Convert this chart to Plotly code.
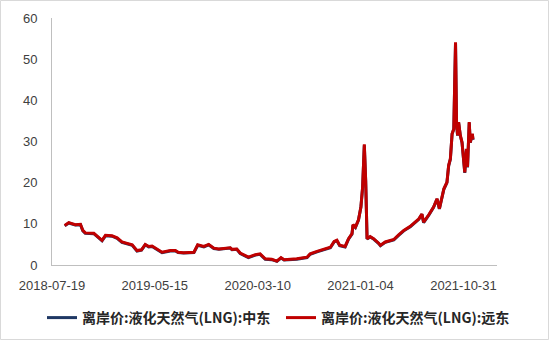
import plotly.graph_objects as go

dates = [
    "2018-08-25", "2018-09-06", "2018-09-25", "2018-10-10", "2018-10-17", "2018-10-24",
    "2018-11-18", "2018-11-27", "2018-12-12", "2018-12-22", "2019-01-10", "2019-01-25",
    "2019-02-08", "2019-03-10", "2019-03-24", "2019-04-06", "2019-04-17", "2019-04-27",
    "2019-05-07", "2019-06-05", "2019-06-29", "2019-07-14", "2019-07-22", "2019-08-07",
    "2019-08-27", "2019-09-06", "2019-09-17", "2019-10-05", "2019-10-19", "2019-11-03",
    "2019-11-18", "2019-12-07", "2019-12-21", "2019-12-26", "2020-01-09", "2020-01-19",
    "2020-02-12", "2020-03-03", "2020-03-17", "2020-04-01", "2020-04-20", "2020-05-05",
    "2020-05-17", "2020-05-26", "2020-07-02", "2020-08-01", "2020-08-10", "2020-08-30",
    "2020-09-13", "2020-10-08", "2020-10-19", "2020-10-27", "2020-11-04", "2020-11-20",
    "2020-11-30", "2020-12-10", "2020-12-13", "2020-12-20", "2020-12-29", "2021-01-05",
    "2021-01-10", "2021-01-15", "2021-01-19", "2021-01-23", "2021-02-01", "2021-02-11",
    "2021-02-26", "2021-03-03", "2021-03-17", "2021-04-11", "2021-04-25", "2021-05-10",
    "2021-05-29", "2021-06-13", "2021-06-23", "2021-07-02", "2021-07-07", "2021-07-22",
    "2021-08-05", "2021-08-15", "2021-08-22", "2021-09-04", "2021-09-13", "2021-09-18",
    "2021-09-23", "2021-09-28", "2021-10-03", "2021-10-08", "2021-10-11", "2021-10-14",
    "2021-10-17", "2021-10-22", "2021-10-27", "2021-11-04", "2021-11-09", "2021-11-12",
    "2021-11-17", "2021-11-20", "2021-11-26", "2021-11-28",
]

far_east = [
    9.6, 10.3, 9.8, 9.9, 8.4, 7.8,
    7.7, 7.0, 6.0, 7.2, 7.1, 6.6,
    5.6, 4.9, 3.5, 3.7, 5.0, 4.5,
    4.6, 3.1, 3.5, 3.5, 3.1, 3.0,
    3.1, 3.1, 4.9, 4.5, 5.0, 4.1,
    3.9, 4.1, 4.2, 3.8, 3.9, 2.9,
    1.9, 2.5, 2.7, 1.5, 1.4, 0.95,
    1.8, 1.3, 1.5, 1.9, 2.7, 3.3,
    3.7, 4.3, 5.7, 6.0, 4.8, 4.5,
    6.4, 7.6, 9.8, 9.2, 11.0, 14.1,
    18.9, 29.3, 20.5, 6.4, 6.9, 6.4,
    5.3, 4.8, 5.6, 6.2, 7.3, 8.4,
    9.4, 10.4, 11.2, 12.4, 10.4, 12.2,
    14.1, 16.1, 13.7, 18.5, 20.1, 24.2,
    25.8, 31.9, 33.1, 54.1, 34.7, 31.5,
    34.7, 31.5, 29.8, 22.5, 28.2, 23.8,
    34.7, 29.8, 31.9, 30.5,
]

middle_east = [
    9.5, 10.2, 9.7, 9.8, 8.3, 7.7,
    7.6, 6.9, 5.9, 7.1, 7.0, 6.5,
    5.5, 4.8, 3.4, 3.6, 4.9, 4.4,
    4.5, 3.0, 3.4, 3.4, 3.0, 2.9,
    3.0, 3.0, 4.8, 4.4, 4.9, 4.0,
    3.8, 4.0, 4.1, 3.7, 3.8, 2.8,
    1.8, 2.4, 2.6, 1.4, 1.3, 0.9,
    1.7, 1.2, 1.4, 1.8, 2.6, 3.2,
    3.6, 4.2, 5.6, 5.9, 4.7, 4.4,
    6.3, 7.5, 9.7, 9.1, 10.9, 14.0,
    18.8, 29.1, 20.4, 6.3, 6.8, 6.3,
    5.2, 4.7, 5.5, 6.1, 7.2, 8.3,
    9.3, 10.3, 11.1, 12.3, 10.3, 12.1,
    14.0, 16.0, 13.6, 18.4, 20.0, 24.1,
    25.7, 31.8, 33.0, 53.9, 34.6, 31.4,
    34.6, 31.4, 29.7, 22.4, 28.1, 23.7,
    34.6, 29.7, 31.8, 30.4,
]

names = ["离岸价:液化天然气(LNG):中东", "离岸价:液化天然气(LNG):远东"]
colors = ["#1F3864", "#C00000"]
y_ticks = [0, 10, 20, 30, 40, 50, 60]
x_start = "2018-07-19"
x_end = "2022-02-06"
tick_step_days = 300

fig = go.Figure()
fig.add_trace(go.Scatter(x=dates, y=middle_east, mode="lines", name=names[0],
                         legend="legend", line=dict(color=colors[0], width=3)))
fig.add_trace(go.Scatter(x=dates, y=far_east, mode="lines", name=names[1],
                         legend="legend2", line=dict(color=colors[1], width=3)))

ml, mr, mt, mb = 52, 53, 18, 76
W, H = 550, 341
pw, ph = W - ml - mr, H - mt - mb

legend_font = dict(family="Noto Sans CJK SC", size=14, color="#262626", weight="bold")
leg_common = dict(orientation="h", xref="container", yref="container", xanchor="left",
                  y=1 - 318 / H, yanchor="middle", font=legend_font,
                  bgcolor="rgba(0,0,0,0)", borderwidth=0)

fig.update_layout(
    width=W, height=H,
    margin=dict(l=ml, r=mr, t=mt, b=mb, autoexpand=False),
    paper_bgcolor="white", plot_bgcolor="white",
    showlegend=True,
    legend=dict(x=42 / W, **leg_common),
    legend2=dict(x=281 / W, **leg_common),
    xaxis=dict(type="date", range=[x_start, x_end], tick0=x_start,
               dtick=tick_step_days * 86400000, tickformat="%Y-%m-%d",
               showgrid=False, zeroline=False, showline=True, linecolor="#BFBFBF",
               linewidth=1, ticks="", ticklabelstandoff=8,
               tickfont=dict(family="Liberation Sans", size=13, color="#404040")),
    yaxis=dict(range=[0, 60], tickvals=y_ticks, showgrid=False, zeroline=False,
               showline=True, linecolor="#BFBFBF", linewidth=1, ticks="",
               ticklabelstandoff=11,
               tickfont=dict(family="Liberation Sans", size=13, color="#404040")),
    shapes=[dict(type="rect", xref="paper", yref="paper",
                 x0=-(ml - 0.5) / pw, x1=1 + (mr - 1.5) / pw,
                 y0=-(mb - 1.5) / ph, y1=1 + (mt - 0.5) / ph,
                 line=dict(color="#D9D9D9", width=1), layer="below")],
)

fig.write_html("out.html")
